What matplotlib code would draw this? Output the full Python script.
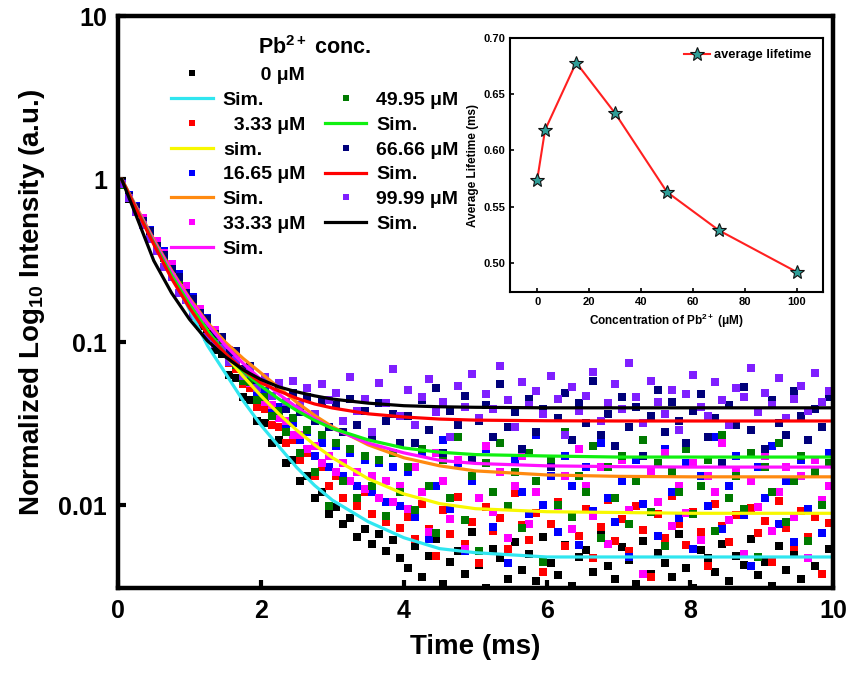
import numpy as np
import matplotlib
matplotlib.use('Agg')
import matplotlib.pyplot as plt
from matplotlib.lines import Line2D

plt.rcParams['font.family'] = ['Liberation Sans', 'DejaVu Sans']
plt.rcParams['font.weight'] = 'bold'
plt.rcParams['mathtext.fontset'] = 'custom'
plt.rcParams['mathtext.rm'] = 'Liberation Sans:bold'
plt.rcParams['mathtext.bf'] = 'Liberation Sans:bold'
plt.rcParams['mathtext.it'] = 'Liberation Sans:bold'
plt.rcParams['mathtext.default'] = 'rm'

# ---- decay data (normalized intensity), sampled every 0.1 ms ----
time_ms = np.arange(100) * 0.1 + 0.05

i_0 = [0.92, 0.76, 0.66, 0.53, 0.46, 0.37, 0.33, 0.26, 0.23, 0.18,
       0.165, 0.125, 0.118, 0.090, 0.084, 0.063, 0.060, 0.046, 0.044, 0.033,
       0.032, 0.024, 0.025, 0.018, 0.019, 0.014, 0.015, 0.011, 0.012, 0.0088,
       0.0097, 0.0076, 0.0083, 0.0064, 0.0071, 0.0058, 0.0066, 0.0052, 0.0061, 0.0047,
       0.0041, 0.0056, 0.0036, 0.0049, 0.0062, 0.0033, 0.0045, 0.0052, 0.0038, 0.0068,
       0.0043, 0.0031, 0.0054, 0.0047, 0.0035, 0.0059, 0.0040, 0.0050, 0.0034, 0.0064,
       0.0044, 0.0037, 0.0057, 0.0032, 0.0048, 0.0053, 0.0039, 0.0070, 0.0042, 0.0035,
       0.0055, 0.0046, 0.0033, 0.0060, 0.0038, 0.0051, 0.0044, 0.0036, 0.0066, 0.0041,
       0.0031, 0.0053, 0.0047, 0.0039, 0.0058, 0.0034, 0.0049, 0.0043, 0.0062, 0.0037,
       0.0045, 0.0032, 0.0056, 0.0040, 0.0051, 0.0035, 0.0063, 0.0042, 0.0038, 0.0054]

i_333 = [0.93, 0.78, 0.65, 0.56, 0.47, 0.39, 0.34, 0.28, 0.235, 0.205,
         0.17, 0.142, 0.125, 0.101, 0.092, 0.074, 0.068, 0.055, 0.052, 0.040,
         0.039, 0.031, 0.030, 0.024, 0.025, 0.019, 0.021, 0.015, 0.017, 0.013,
         0.015, 0.011, 0.014, 0.0098, 0.012, 0.0088, 0.011, 0.0079, 0.0105, 0.0072,
         0.0085, 0.0062, 0.0101, 0.0071, 0.0049, 0.0093, 0.0066, 0.0112, 0.0058, 0.0079,
         0.0044, 0.0097, 0.0069, 0.0083, 0.0054, 0.0118, 0.0075, 0.0061, 0.0089, 0.0039,
         0.0077, 0.0104, 0.0056, 0.0086, 0.0065, 0.0095, 0.0047, 0.0073, 0.0108, 0.0060,
         0.0082, 0.0052, 0.0099, 0.0070, 0.0036, 0.0088, 0.0063, 0.0114, 0.0076, 0.0057,
         0.0091, 0.0068, 0.0042, 0.0102, 0.0074, 0.0059, 0.0087, 0.0050, 0.0096, 0.0067,
         0.0080, 0.0045, 0.0106, 0.0072, 0.0055, 0.0092, 0.0064, 0.0084, 0.0038, 0.0078]

i_1665 = [0.94, 0.80, 0.68, 0.57, 0.49, 0.41, 0.36, 0.29, 0.26, 0.21,
          0.19, 0.155, 0.14, 0.113, 0.106, 0.085, 0.080, 0.064, 0.062, 0.049,
          0.050, 0.038, 0.040, 0.030, 0.032, 0.025, 0.028, 0.020, 0.024, 0.017,
          0.023, 0.015, 0.021, 0.013, 0.019, 0.012, 0.018, 0.0105, 0.017, 0.0098,
          0.016, 0.0085, 0.021, 0.0062, 0.013, 0.025, 0.0095, 0.018, 0.0052, 0.014,
          0.011, 0.022, 0.0073, 0.016, 0.0044, 0.019, 0.012, 0.0088, 0.027, 0.010,
          0.015, 0.0068, 0.020, 0.013, 0.0057, 0.017, 0.0092, 0.024, 0.011, 0.0079,
          0.014, 0.0048, 0.019, 0.0102, 0.016, 0.0065, 0.022, 0.012, 0.0083, 0.018,
          0.0054, 0.015, 0.0098, 0.026, 0.0071, 0.013, 0.020, 0.0087, 0.0042, 0.017,
          0.011, 0.023, 0.0076, 0.014, 0.0059, 0.019, 0.0094, 0.016, 0.0067, 0.021]

i_3333 = [0.93, 0.79, 0.67, 0.58, 0.48, 0.42, 0.35, 0.30, 0.25, 0.22,
          0.18, 0.16, 0.135, 0.118, 0.100, 0.090, 0.074, 0.068, 0.056, 0.052,
          0.043, 0.041, 0.034, 0.033, 0.027, 0.027, 0.022, 0.023, 0.018, 0.020,
          0.016, 0.018, 0.014, 0.016, 0.0125, 0.015, 0.011, 0.014, 0.0105, 0.013,
          0.0095, 0.017, 0.012, 0.0068, 0.021, 0.014, 0.0082, 0.019, 0.0054, 0.015,
          0.011, 0.023, 0.0091, 0.016, 0.0063, 0.013, 0.020, 0.0077, 0.012, 0.0045,
          0.018, 0.0099, 0.015, 0.0071, 0.022, 0.013, 0.0086, 0.017, 0.0058, 0.011,
          0.019, 0.0093, 0.014, 0.0038, 0.016, 0.0105, 0.021, 0.0074, 0.013, 0.0089,
          0.018, 0.0061, 0.015, 0.012, 0.024, 0.0081, 0.016, 0.0050, 0.014, 0.0097,
          0.020, 0.0069, 0.012, 0.017, 0.0084, 0.015, 0.0047, 0.019, 0.0108, 0.013]

i_4995 = [0.92, 0.77, 0.66, 0.55, 0.46, 0.39, 0.33, 0.28, 0.24, 0.20,
          0.17, 0.145, 0.128, 0.104, 0.096, 0.078, 0.072, 0.058, 0.057, 0.044,
          0.046, 0.035, 0.038, 0.028, 0.034, 0.021, 0.029, 0.016, 0.027, 0.0098,
          0.024, 0.014, 0.022, 0.011, 0.020, 0.013, 0.019, 0.0086, 0.021, 0.012,
          0.017, 0.0093, 0.022, 0.013, 0.0067, 0.019, 0.011, 0.026, 0.0081, 0.015,
          0.0052, 0.018, 0.012, 0.024, 0.0098, 0.016, 0.0072, 0.021, 0.014, 0.0045,
          0.019, 0.010, 0.028, 0.0085, 0.015, 0.012, 0.023, 0.0063, 0.017, 0.011,
          0.020, 0.0077, 0.014, 0.025, 0.0091, 0.018, 0.0056, 0.016, 0.012, 0.022,
          0.0088, 0.013, 0.019, 0.0069, 0.027, 0.011, 0.015, 0.0095, 0.021, 0.0048,
          0.017, 0.012, 0.024, 0.0079, 0.014, 0.020, 0.0060, 0.016, 0.010, 0.018]

i_6666 = [0.95, 0.79, 0.67, 0.55, 0.48, 0.39, 0.34, 0.28, 0.25, 0.20,
          0.183, 0.150, 0.139, 0.112, 0.108, 0.086, 0.088, 0.068, 0.071, 0.055,
          0.060, 0.047, 0.053, 0.039, 0.049, 0.037, 0.046, 0.033, 0.043, 0.030,
          0.041, 0.028, 0.045, 0.031, 0.038, 0.026, 0.042, 0.033, 0.036, 0.024,
          0.035, 0.024, 0.044, 0.029, 0.052, 0.021, 0.038, 0.031, 0.047, 0.019,
          0.033, 0.041, 0.026, 0.055, 0.030, 0.037, 0.022, 0.045, 0.028, 0.039,
          0.017, 0.034, 0.049, 0.025, 0.042, 0.032, 0.058, 0.027, 0.036, 0.023,
          0.046, 0.030, 0.040, 0.020, 0.035, 0.051, 0.028, 0.043, 0.033, 0.024,
          0.038, 0.048, 0.026, 0.034, 0.018, 0.041, 0.031, 0.053, 0.029, 0.037,
          0.022, 0.044, 0.032, 0.027, 0.050, 0.035, 0.025, 0.039, 0.030, 0.046]

i_9999 = [0.93, 0.77, 0.63, 0.52, 0.43, 0.36, 0.29, 0.25, 0.20, 0.18,
          0.145, 0.135, 0.108, 0.098, 0.092, 0.075, 0.078, 0.062, 0.068, 0.052,
          0.061, 0.047, 0.056, 0.043, 0.058, 0.041, 0.052, 0.036, 0.055, 0.044,
          0.049, 0.033, 0.061, 0.038, 0.045, 0.028, 0.056, 0.042, 0.068, 0.035,
          0.051, 0.031, 0.046, 0.059, 0.037, 0.043, 0.026, 0.054, 0.040, 0.064,
          0.034, 0.048, 0.039, 0.071, 0.044, 0.030, 0.057, 0.041, 0.050, 0.036,
          0.062, 0.045, 0.027, 0.053, 0.038, 0.047, 0.066, 0.033, 0.042, 0.055,
          0.039, 0.074, 0.046, 0.032, 0.058, 0.043, 0.036, 0.051, 0.029, 0.048,
          0.063, 0.040, 0.035, 0.057, 0.044, 0.031, 0.052, 0.046, 0.069, 0.037,
          0.049, 0.041, 0.060, 0.034, 0.045, 0.054, 0.038, 0.065, 0.043, 0.050]

# ---- simulated (fit) curves ----
t_sim = [0.05, 0.25, 0.5, 0.75, 1.0, 1.25, 1.5, 1.75, 2.0, 2.25, 2.5, 2.75, 3.0,
         3.5, 4.0, 4.5, 5.0, 6.0, 7.0, 8.0, 10.0]
sim_0 = [1.0, 0.668, 0.407, 0.257, 0.158, 0.0955, 0.0646, 0.0437, 0.0309, 0.0229, 0.0170,
         0.0132, 0.0107, 0.0079, 0.0063, 0.0054, 0.0051, 0.0048, 0.0048, 0.0048, 0.0048]
sim_333 = [1.0, 0.668, 0.407, 0.257, 0.170, 0.1175, 0.0832, 0.0617, 0.0468, 0.0363, 0.0288,
           0.0234, 0.0195, 0.0145, 0.0117, 0.0102, 0.0095, 0.0091, 0.0090, 0.0089, 0.0089]
sim_1665 = [1.0, 0.684, 0.427, 0.275, 0.186, 0.132, 0.100, 0.0794, 0.0646, 0.0525, 0.0427,
            0.0355, 0.0302, 0.0234, 0.0195, 0.0174, 0.0162, 0.0153, 0.0150, 0.0149, 0.0149]
sim_3333 = [1.0, 0.676, 0.417, 0.269, 0.182, 0.129, 0.0955, 0.0741, 0.0589, 0.0479, 0.0398,
            0.0339, 0.0295, 0.0240, 0.0209, 0.0188, 0.0180, 0.0174, 0.0172, 0.0171, 0.0171]
sim_4995 = [1.0, 0.668, 0.407, 0.257, 0.170, 0.1175, 0.0851, 0.0661, 0.0537, 0.0447, 0.0380,
            0.0331, 0.0295, 0.0251, 0.0224, 0.0211, 0.0204, 0.0200, 0.0197, 0.0197, 0.0197]
sim_6666 = [1.0, 0.661, 0.398, 0.245, 0.162, 0.112, 0.0851, 0.0676, 0.0562, 0.0501, 0.0452,
            0.0417, 0.0394, 0.0363, 0.0347, 0.0337, 0.0332, 0.0329, 0.0328, 0.0328, 0.0328]
sim_9999 = [1.0, 0.603, 0.316, 0.200, 0.138, 0.102, 0.0813, 0.0676, 0.0589, 0.0531, 0.0495,
            0.0468, 0.0447, 0.0422, 0.0407, 0.0401, 0.0398, 0.0395, 0.0395, 0.0395, 0.0395]

# ---- inset: average lifetime ----
conc = [0, 3, 15, 30, 50, 70, 100]
avg_lifetime = [0.574, 0.618, 0.678, 0.633, 0.563, 0.529, 0.492]

data_sets = [
    ('       0 μM', i_0, '#000000'),
    ('  3.33 μM', i_333, '#ff0000'),
    ('16.65 μM', i_1665, '#0000ff'),
    ('33.33 μM', i_3333, '#ff00ff'),
    ('49.95 μM', i_4995, '#007a00'),
    ('66.66 μM', i_6666, '#00007a'),
    ('99.99 μM', i_9999, '#7f1fff'),
]
sim_sets = [
    ('Sim.', sim_0, '#30e6f0'),
    ('sim.', sim_333, '#f8f800'),
    ('Sim.', sim_1665, '#ff8a10'),
    ('Sim.', sim_3333, '#ff10ff'),
    ('Sim.', sim_4995, '#10f010'),
    ('Sim.', sim_6666, '#ff0000'),
    ('Sim.', sim_9999, '#000000'),
]

fig = plt.figure(figsize=(8.49, 6.75), dpi=100)
ax = fig.add_axes([0.139, 0.129, 0.842, 0.847])

pt_handles = []
for label, vals, col in data_sets:
    h, = ax.plot(time_ms, vals, 's', color=col, markersize=5.2, markeredgewidth=0)
    pt_handles.append(h)
ln_handles = []
for label, vals, col in sim_sets:
    h, = ax.plot(t_sim, vals, '-', color=col, linewidth=2.3)
    ln_handles.append(h)

ax.set_yscale('log')
ax.set_xlim(0, 10)
ax.set_ylim(0.0031, 10)
ax.set_yticks([0.01, 0.1, 1, 10])
ax.set_yticklabels(['0.01', '0.1', '1', '10'])
ax.yaxis.set_minor_locator(matplotlib.ticker.NullLocator())
ax.set_xticks([0, 2, 4, 6, 8, 10])
ax.tick_params(axis='both', which='major', direction='in', length=6, width=3,
               labelsize=18, pad=8)
for s in ax.spines.values():
    s.set_linewidth(3.2)
ax.set_xlabel('Time (ms)', fontsize=20, fontweight='bold', labelpad=8)
ax.set_ylabel('Normalized Log$_{10}$ Intensity (a.u.)', fontsize=20,
              fontweight='bold', labelpad=8)

# legend: left column 8 rows, right column offset by one row
blank = Line2D([], [], linestyle='none')
handles = [pt_handles[0], ln_handles[0], pt_handles[1], ln_handles[1],
           pt_handles[2], ln_handles[2], pt_handles[3], ln_handles[3],
           blank, pt_handles[4], ln_handles[4], pt_handles[5], ln_handles[5],
           pt_handles[6], ln_handles[6], blank]
labels = [data_sets[0][0], 'Sim.', data_sets[1][0], 'sim.',
          data_sets[2][0], 'Sim.', data_sets[3][0], 'Sim.',
          ' ', data_sets[4][0], 'Sim.', data_sets[5][0], 'Sim.',
          data_sets[6][0], 'Sim.', ' ']
leg = ax.legend(handles, labels, ncol=2, loc='upper left',
                bbox_to_anchor=(0.05, 0.995), frameon=False, fontsize=14,
                title='Pb$^{2+}$ conc.', title_fontsize=15.5,
                handlelength=2.15, labelspacing=0.37, columnspacing=1.0,
                handletextpad=0.5, markerscale=0.75)
for txt in leg.get_texts():
    txt.set_fontweight('bold')

# inset
axin = fig.add_axes([0.601, 0.567, 0.368, 0.377])
axin.plot(conc, avg_lifetime, '-', color='#ff2020', linewidth=1.5,
          marker='*', markersize=10, markerfacecolor='#2f9e98',
          markeredgecolor='#111111', markeredgewidth=0.8, label='average lifetime')
axin.set_xlim(-10.4, 110)
axin.set_ylim(0.474, 0.70)
axin.set_xticks([0, 20, 40, 60, 80, 100])
axin.set_yticks([0.50, 0.55, 0.60, 0.65, 0.70])
axin.yaxis.set_major_formatter(matplotlib.ticker.FormatStrFormatter('%.2f'))
axin.tick_params(direction='in', length=3, width=1.2, labelsize=8)
for s in axin.spines.values():
    s.set_linewidth(1.5)
axin.set_xlabel('Concentration of Pb$^{2+}$ (μM)', fontsize=8.5, fontweight='bold', labelpad=3)
axin.set_ylabel('Average Lifetime (ms)', fontsize=8.5, fontweight='bold', labelpad=3)
il = axin.legend(loc='upper right', frameon=False, fontsize=9.3,
                 handlelength=2.0, handletextpad=0.3)
for txt in il.get_texts():
    txt.set_fontweight('bold')

fig.savefig('out.png', dpi=100, facecolor='white')
